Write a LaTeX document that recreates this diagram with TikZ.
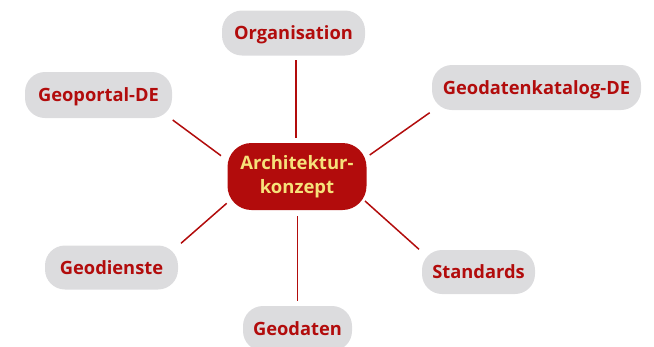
\documentclass[tikz,border=0pt]{standalone}
\usepackage{fontspec}
\setmainfont{Open Sans}
\definecolor{darkred}{HTML}{B20C0C}
\definecolor{boxgray}{HTML}{DCDCDE}
\definecolor{lightyellow}{HTML}{F6E27A}
\begin{document}
\begin{tikzpicture}[x=1pt,y=-1pt,
  leaf/.style={draw=none,fill=boxgray,rounded corners=20pt,inner sep=0pt,
    text height=13pt,text depth=0pt,
    minimum height=45pt,font=\fontsize{18.3}{21}\selectfont\bfseries,text=darkred},
  hub/.style={draw=none,fill=darkred,rounded corners=24pt,inner sep=0pt,
    minimum width=139pt,minimum height=67pt,align=center,
    font=\fontsize{18.5}{24}\selectfont\bfseries,text=lightyellow},
  link/.style={draw=darkred,line width=1.5pt}]
\useasboundingbox (0,0) rectangle (654,346);
\node[hub] (c) at (297,176.5) {Architektur-\\konzept};
\node[leaf,minimum width=143pt] (org) at (293.5,33) {Organisation};
\node[leaf,minimum width=147pt,minimum height=46pt] (gp) at (98.5,95) {Geoportal-DE};
\node[leaf,minimum width=209pt] (gk) at (536.5,87.5) {Geodatenkatalog-DE};
\node[leaf,minimum width=133pt,minimum height=44pt] (gd) at (111.5,267.5) {Geodienste};
\node[leaf,minimum width=113pt,minimum height=44pt] (st) at (478.5,272) {Standards};
\node[leaf,minimum width=109pt] (gt) at (297.5,328.5) {Geodaten};
\coordinate (org1) at (296,60); \coordinate (org2) at (296,138);
\coordinate (gp1) at (172.7,120); \coordinate (gp2) at (221,155.7);
\coordinate (gk1) at (429.7,112.7); \coordinate (gk2) at (369.7,155);
\coordinate (gd1) at (181,243.3); \coordinate (gd2) at (226.7,203.3);
\coordinate (st1) at (419,249.3); \coordinate (st2) at (365,201);
\coordinate (gt1) at (297.3,300.7); \coordinate (gt2) at (297.3,215.7);
\draw[link] (org1) -- (org2);
\draw[link] (gp1) -- (gp2);
\draw[link] (gk1) -- (gk2);
\draw[link] (gd1) -- (gd2);
\draw[link] (st1) -- (st2);
\draw[link] (gt1) -- (gt2);
\end{tikzpicture}
\end{document}
